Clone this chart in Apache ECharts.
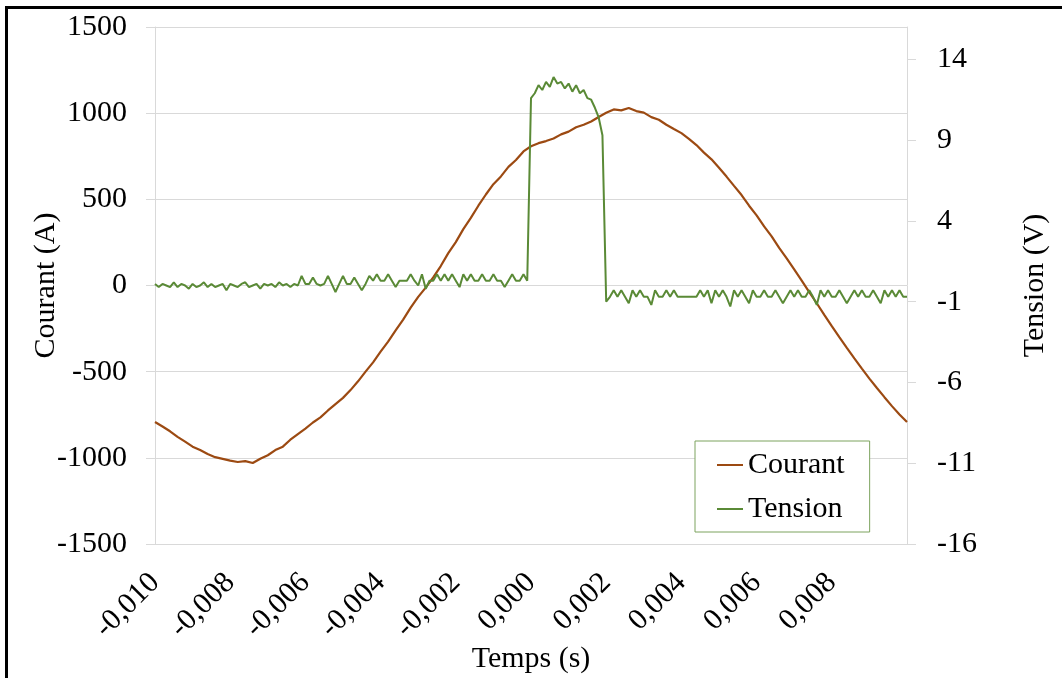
<!DOCTYPE html>
<html>
<head>
<meta charset="utf-8">
<title>Courant / Tension</title>
<script src="https://cdn.jsdelivr.net/npm/echarts@6/dist/echarts.min.js"></script>
<style>
  html, body { margin: 0; padding: 0; background: #fff; }
  #chart { width: 1062px; height: 678px; }
</style>
</head>
<body>
<div id="chart"></div>
<script>
// courant (A), un point toutes les 0,2 ms de -0,010 s a 0,010 s
const courantStep = 0.0002;
const courant = [
  -792, -818, -846, -878, -906, -935, -955, -978, -996, -1006,
  -1016, -1024, -1019, -1030, -1005, -985, -955, -935, -895, -862,
  -830, -795, -765, -725, -688, -652, -607, -556, -500, -446,
  -384, -326, -261, -198, -128, -66, -12, 47, 113, 188,
  252, 327, 392, 463, 528, 588, 633, 688, 728, 778,
  808, 826, 838, 853, 877, 893, 918, 933, 952, 978,
  1002, 1022, 1016, 1030, 1012, 1003, 977, 962, 933, 908,
  884, 851, 815, 771, 732, 683, 632, 578, 525, 463,
  407, 343, 285, 218, 157, 93, 28, -38, -103, -170,
  -236, -300, -362, -423, -482, -540, -595, -648, -700, -748,
  -792
];

// tension (V), un point toutes les 0,1 ms
const tensionStep = 0.0001;
const tension = [
  0.1, -0.1, 0.1, 0.0, -0.1, 0.2, -0.1, 0.1, 0.0, -0.2,
  0.1, -0.1, 0.0, 0.2, -0.1, 0.1, -0.1, 0.0, 0.1, -0.3,
  0.1, 0.0, -0.1, 0.1, 0.2, -0.1, 0.0, 0.1, -0.2, 0.1,
  0.0, 0.1, -0.1, 0.2, 0.0, 0.1, -0.1, 0.1, 0.0, 0.6,
  0.1, 0.1, 0.5, 0.1, 0.0, 0.1, 0.6, 0.1, -0.4, 0.1,
  0.6, 0.1, 0.1, 0.5, 0.1, -0.3, 0.1, 0.6,
  0.3, 0.7, 0.3, 0.3, 0.7, 0.3, -0.1, 0.3, 0.3, 0.3,
  0.7, 0.3, 0.0, 0.7, -0.2, 0.3, 0.3, 0.7, 0.3, 0.7,
  0.3, 0.7, 0.3, -0.1, 0.7, 0.3, 0.7, 0.3, 0.3, 0.7,
  0.3, 0.3, 0.7, 0.3, 0.3, -0.1, 0.3, 0.7, 0.3, 0.3,
  0.7, 0.3,
  11.6,
  11.9, 12.4, 12.1, 12.6, 12.3, 12.9, 12.5, 12.6, 12.2, 12.5,
  12.0, 12.4, 11.9, 12.1, 11.6, 11.5, 11.0, 10.4, 9.3,
  -1.0,
  -0.7, -0.3, -0.7, -0.3, -0.7, -1.1, -0.3, -0.7, -0.3, -0.7,
  -0.7, -1.2, -0.3, -0.7, -0.7, -0.3, -0.7, -0.3, -0.7, -0.7,
  -0.7, -0.7, -0.7, -0.7, -0.3, -0.7, -0.3, -1.1, -0.3, -0.7,
  -0.3, -0.7, -1.3, -0.3, -0.7, -0.3, -0.7, -1.1, -0.3, -0.7,
  -0.7, -0.3, -0.7, -0.7, -0.3, -0.7, -1.1, -0.7, -0.3, -0.7,
  -0.3, -0.7, -0.7, -0.3, -0.7, -1.2, -0.3, -0.7, -0.3, -0.7,
  -0.7, -0.3, -0.7, -1.1, -0.7, -0.3, -0.7, -0.3, -0.7, -0.7,
  -0.3, -0.7, -1.1, -0.3, -0.7, -0.3, -0.7, -0.3, -0.7, -0.7
];

const tStart = -0.010;
const tensionTicks = [-16, -11, -6, -1, 4, 9, 14];
const seriesNames = ['Courant', 'Tension'];

const font = "'Liberation Serif', 'Times New Roman', serif";
const gridColor = '#d9d9d9';

// [t, valeur] pour un axe de temps
function withTime(values, step) {
  return values.map((v, i) => [+(tStart + i * step).toFixed(5), v]);
}

let chart = echarts.init(document.getElementById('chart'));

let option = {
  animation: false,
  backgroundColor: '#fff',
  textStyle: { fontFamily: font },
  grid: { left: 155, right: 155, top: 27, bottom: 134, outerBoundsMode: 'none' },
  graphic: [
    {
      type: 'rect',
      shape: { x: 6.5, y: 7.5, width: 1200, height: 800 },
      style: { fill: 'none', stroke: '#000', lineWidth: 3 },
      silent: true
    }
  ],
  legend: {
    data: seriesNames,
    orient: 'vertical',
    left: 695,
    top: 441,
    backgroundColor: '#fff',
    borderColor: '#7da35f',
    borderWidth: 1,
    padding: [9, 25, 8, 22],
    itemGap: 14,
    icon: 'rect',
    itemWidth: 26,
    itemHeight: 2,
    textStyle: { fontSize: 30, fontFamily: font, color: '#000' }
  },
  xAxis: {
    type: 'value',
    min: -0.01,
    max: 0.01,
    interval: 0.002,
    name: 'Temps (s)',
    nameLocation: 'middle',
    nameGap: 100,
    nameMoveOverlap: false,
    nameTextStyle: { fontSize: 30, fontFamily: font, color: '#000' },
    axisLine: { show: false, onZero: false },
    axisTick: { show: false },
    splitLine: { show: false },
    axisLabel: {
      rotate: 45,
      margin: 34,
      showMaxLabel: false,
      fontSize: 30,
      fontFamily: font,
      color: '#000',
      formatter: v => v.toFixed(3).replace('.', ',')
    }
  },
  yAxis: [
    {
      type: 'value',
      min: -1500,
      max: 1500,
      interval: 500,
      name: 'Courant (A)',
      nameLocation: 'middle',
      nameRotate: 90,
      nameGap: 94,
      nameMoveOverlap: false,
      nameTextStyle: { fontSize: 30, fontFamily: font, color: '#000' },
      axisLine: { show: true, onZero: false, lineStyle: { color: gridColor, width: 1 } },
      axisTick: { show: true, length: 9, lineStyle: { color: gridColor } },
      splitLine: { show: true, lineStyle: { color: gridColor, width: 1 } },
      axisLabel: {
        margin: 28,
        fontSize: 30,
        fontFamily: font,
        color: '#000',
        formatter: v => String(v)
      }
    },
    {
      type: 'value',
      position: 'right',
      min: -16,
      max: 16,
      interval: 5,
      name: 'Tension (V)',
      nameLocation: 'middle',
      nameRotate: 90,
      nameGap: 113,
      nameMoveOverlap: false,
      nameTextStyle: { fontSize: 30, fontFamily: font, color: '#000' },
      axisLine: { show: true, onZero: false, lineStyle: { color: gridColor, width: 1 } },
      axisTick: { show: true, length: 9, customValues: tensionTicks, lineStyle: { color: gridColor } },
      splitLine: { show: false },
      axisLabel: {
        customValues: tensionTicks,
        margin: 30,
        fontSize: 30,
        fontFamily: font,
        color: '#000'
      }
    }
  ],
  series: [
    {
      name: seriesNames[0],
      type: 'line',
      yAxisIndex: 0,
      symbol: 'none',
      color: '#9c4a12',
      lineStyle: { width: 2.2, color: '#9c4a12' },
      data: withTime(courant, courantStep)
    },
    {
      name: seriesNames[1],
      type: 'line',
      yAxisIndex: 1,
      symbol: 'none',
      color: '#5a8a36',
      lineStyle: { width: 2, color: '#5a8a36' },
      data: withTime(tension, tensionStep)
    }
  ]
};

chart.setOption(option);
</script>
</body>
</html>
